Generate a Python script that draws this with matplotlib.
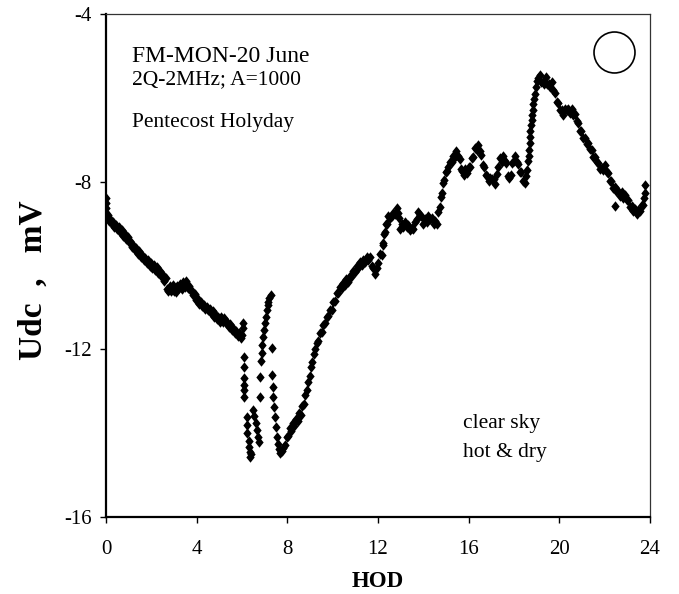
import matplotlib
matplotlib.use("Agg")
import matplotlib.pyplot as plt
import numpy as np

plt.rcParams['font.family'] = ['Liberation Serif', 'DejaVu Serif']
plt.rcParams['axes.unicode_minus'] = False

# ── data (hour of day, Udc in mV) ────────────────────────────────────────────
night_hod = [0.00, 0.00, 0.00, 0.02, 0.05, 0.09, 0.14, 0.19, 0.25, 0.31, 0.37, 0.43,
             0.50, 0.56, 0.62, 0.69, 0.75, 0.82, 0.88, 0.95, 1.01, 1.08, 1.14, 1.21,
             1.27, 1.34, 1.40, 1.47, 1.53, 1.60, 1.66, 1.73, 1.79, 1.86, 1.92, 1.99,
             2.05, 2.12, 2.18, 2.25, 2.31, 2.38, 2.44, 2.51, 2.57, 2.63, 2.69, 2.75,
             2.82, 2.88, 2.95, 3.01, 3.08, 3.14, 3.21, 3.27, 3.34, 3.40, 3.47, 3.53,
             3.60, 3.66, 3.73, 3.79, 3.86, 3.92, 3.99, 4.05, 4.12, 4.18, 4.25, 4.31,
             4.38, 4.44, 4.51, 4.57, 4.64, 4.70, 4.77, 4.83, 4.90, 4.96, 5.03, 5.09,
             5.16, 5.22, 5.29, 5.35, 5.42, 5.48, 5.55, 5.61, 5.68, 5.74, 5.81, 5.87,
             5.94, 6.00, 6.04, 6.05]
night_udc = [-8.39, -8.50, -8.62, -8.74, -8.84, -8.80, -8.93, -8.88, -9.01, -8.96, -9.08, -9.03,
             -9.14, -9.08, -9.20, -9.16, -9.30, -9.24, -9.37, -9.32, -9.45, -9.42, -9.56, -9.50,
             -9.63, -9.59, -9.72, -9.66, -9.79, -9.74, -9.88, -9.82, -9.94, -9.88, -10.00, -9.94,
             -10.05, -9.99, -10.10, -10.04, -10.17, -10.12, -10.26, -10.22, -10.37, -10.30, -10.55, -10.62,
             -10.48, -10.60, -10.46, -10.60, -10.64, -10.50, -10.54, -10.43, -10.56, -10.40, -10.52, -10.38,
             -10.54, -10.50, -10.62, -10.60, -10.71, -10.68, -10.82, -10.79, -10.92, -10.86, -10.97, -10.94,
             -11.04, -10.98, -11.06, -11.03, -11.14, -11.08, -11.22, -11.16, -11.28, -11.22, -11.34, -11.24,
             -11.34, -11.26, -11.37, -11.34, -11.46, -11.40, -11.54, -11.48, -11.61, -11.56, -11.67, -11.62,
             -11.74, -11.66, -11.38, -11.50]

dip_hod = [6.09, 6.09, 6.09, 6.09, 6.09, 6.09, 6.20, 6.21, 6.23, 6.30, 6.33, 6.35,
           6.35, 6.40, 6.50, 6.55, 6.62, 6.68, 6.71, 6.76, 6.79, 6.79, 6.82, 6.87,
           6.90, 6.94, 6.98, 7.01, 7.05, 7.09, 7.13, 7.16, 7.21, 7.26, 7.31, 7.31,
           7.35, 7.38, 7.41, 7.45, 7.50, 7.53, 7.58, 7.63, 7.68, 7.75, 7.82]
dip_udc = [-12.19, -12.41, -12.69, -12.85, -12.98, -13.13, -13.61, -13.80, -14.00, -14.18, -14.32, -14.44,
           -14.58, -14.50, -13.45, -13.60, -13.76, -13.92, -14.08, -14.22, -12.65, -13.13, -12.28, -12.09,
           -11.90, -11.70, -11.55, -11.38, -11.22, -11.06, -10.95, -10.86, -10.78, -10.70, -11.97, -12.61,
           -12.89, -13.13, -13.37, -13.61, -13.85, -14.08, -14.25, -14.38, -14.48, -14.42, -14.36]

rise_hod = [7.90, 7.97, 8.03, 8.10, 8.17, 8.24, 8.31, 8.38, 8.45, 8.52, 8.59, 8.66,
            8.72, 8.79, 8.85, 8.92, 8.98, 9.04, 9.10, 9.16, 9.22, 9.29, 9.36, 9.44,
            9.51, 9.59, 9.66, 9.73, 9.81, 9.88, 9.95, 10.03, 10.10, 10.17, 10.24, 10.32]
rise_udc = [-14.28, -14.10, -14.06, -13.88, -13.94, -13.76, -13.84, -13.66, -13.72, -13.52, -13.56, -13.36,
            -13.30, -13.10, -12.98, -12.78, -12.64, -12.43, -12.30, -12.10, -12.00, -11.86, -11.80, -11.62,
            -11.58, -11.42, -11.38, -11.22, -11.20, -11.06, -11.06, -10.88, -10.84, -10.66, -10.66, -10.52]

day_hod = [10.39, 10.46, 10.54, 10.61, 10.68, 10.76, 10.83, 10.91, 10.98, 11.06, 11.13, 11.20,
           11.28, 11.35, 11.42, 11.50, 11.57, 11.65, 11.72, 11.80, 11.87, 11.94, 12.01, 12.08,
           12.16, 12.20, 12.23, 12.27, 12.31, 12.35, 12.40, 12.46, 12.53, 12.60, 12.67, 12.74,
           12.82, 12.89, 12.93, 12.97, 13.04, 13.11, 13.19, 13.26, 13.33, 13.41, 13.48, 13.55,
           13.63, 13.70, 13.78, 13.85, 13.92, 14.00, 14.07, 14.15, 14.22, 14.30, 14.37, 14.45,
           14.52, 14.59, 14.66, 14.72, 14.78, 14.83, 14.88, 14.93, 14.98, 15.03]
day_udc = [-10.54, -10.42, -10.46, -10.32, -10.40, -10.26, -10.28, -10.12, -10.16, -10.02, -10.06, -9.92,
           -9.99, -9.86, -9.92, -9.80, -9.86, -9.80, -10.02, -10.06, -10.20, -10.06, -9.94, -9.72,
           -9.74, -9.52, -9.46, -9.24, -9.20, -9.00, -9.00, -8.82, -8.86, -8.82, -8.74, -8.76,
           -8.64, -8.74, -8.86, -9.14, -9.00, -9.08, -8.96, -9.08, -9.04, -9.16, -9.10, -9.12,
           -8.96, -8.90, -8.72, -8.80, -8.84, -9.02, -8.88, -8.96, -8.82, -8.90, -8.86, -9.02,
           -8.94, -9.00, -8.72, -8.60, -8.36, -8.26, -8.02, -7.96, -7.76, -7.74]

eve_hod = [15.10, 15.18, 15.25, 15.32, 15.39, 15.46, 15.54, 15.60, 15.66, 15.72, 15.79, 15.86,
           15.93, 16.00, 16.06, 16.13, 16.20, 16.28, 16.35, 16.42, 16.50, 16.56, 16.62, 16.68,
           16.75, 16.82, 16.89, 16.96, 17.03, 17.10, 17.17, 17.24, 17.31, 17.38, 17.46, 17.53,
           17.60, 17.66, 17.72, 17.79, 17.86, 17.93, 18.00, 18.06, 18.12, 18.19, 18.26, 18.33,
           18.40, 18.47, 18.52, 18.58, 18.62, 18.65, 18.67, 18.69, 18.70, 18.72, 18.75, 18.78,
           18.81, 18.83, 18.86, 18.90, 18.94, 18.98, 19.03, 19.08, 19.14, 19.20, 19.26, 19.33,
           19.40, 19.46, 19.53, 19.60, 19.66, 19.73, 19.80, 19.88, 19.95, 20.02, 20.10, 20.17,
           20.25, 20.32, 20.40, 20.47, 20.55, 20.62, 20.70, 20.77, 20.83, 20.90, 20.97, 21.05,
           21.12, 21.20, 21.27, 21.35, 21.42, 21.50, 21.57, 21.65, 21.72, 21.79, 21.87, 21.94,
           22.01, 22.09, 22.16, 22.23, 22.30, 22.38, 22.45, 22.45, 22.52, 22.60, 22.67, 22.75,
           22.82, 22.90, 22.97, 23.04, 23.11, 23.19, 23.26, 23.34, 23.41, 23.48, 23.56, 23.63,
           23.70, 23.75, 23.78, 23.78]
eve_udc = [-7.66, -7.52, -7.52, -7.38, -7.40, -7.28, -7.38, -7.46, -7.70, -7.74, -7.84, -7.70,
           -7.80, -7.66, -7.66, -7.44, -7.40, -7.20, -7.24, -7.12, -7.26, -7.36, -7.60, -7.66,
           -7.84, -7.86, -7.98, -7.92, -7.94, -7.94, -8.06, -7.82, -7.66, -7.44, -7.54, -7.38,
           -7.50, -7.56, -7.86, -7.92, -7.84, -7.56, -7.50, -7.38, -7.54, -7.58, -7.76, -7.78,
           -7.98, -8.04, -7.86, -7.72, -7.50, -7.38, -7.24, -7.08, -6.93, -6.78, -6.64, -6.53,
           -6.40, -6.28, -6.14, -6.02, -5.92, -5.74, -5.60, -5.52, -5.46, -5.62, -5.62, -5.66,
           -5.50, -5.68, -5.68, -5.74, -5.62, -5.82, -5.88, -6.10, -6.12, -6.30, -6.28, -6.40,
           -6.26, -6.30, -6.26, -6.36, -6.26, -6.42, -6.38, -6.56, -6.60, -6.80, -6.80, -6.96,
           -6.96, -7.10, -7.08, -7.22, -7.24, -7.42, -7.40, -7.54, -7.56, -7.70, -7.68, -7.72,
           -7.60, -7.76, -7.80, -7.98, -7.98, -8.14, -8.12, -8.58, -8.22, -8.22, -8.34, -8.24,
           -8.38, -8.32, -8.44, -8.44, -8.60, -8.58, -8.70, -8.66, -8.76, -8.68, -8.70, -8.56,
           -8.56, -8.40, -8.28, -8.08]

x_ticks = [0, 4, 8, 12, 16, 20, 24]
y_ticks = [-16, -12, -8, -4]

hod = np.array(night_hod + dip_hod + rise_hod + day_hod + eve_hod)
udc = np.array(night_udc + dip_udc + rise_udc + day_udc + eve_udc)

# ── plot ─────────────────────────────────────────────────────────────────────
fig = plt.figure(figsize=(6.79, 5.94), dpi=100)
ax = fig.add_axes([106/679, 1 - 517/594, 544/679, 503/594])

diamond = [(0, 1), (0.8, 0), (0, -1), (-0.8, 0), (0, 1)]
ax.plot(hod, udc, linestyle='none', marker=diamond, markersize=7.5,
        color='black', markeredgewidth=0)

ax.set_xlim(0, 24)
ax.set_ylim(-16, -4)
ax.set_xticks(x_ticks)
ax.set_yticks(y_ticks)
ax.tick_params(direction='out', length=4.5, width=1, labelsize=15)
ax.tick_params(axis='x', pad=12)
ax.tick_params(axis='y', pad=6)

for side in ['left', 'bottom']:
    ax.spines[side].set_linewidth(1.6)
for side in ['top', 'right']:
    ax.spines[side].set_linewidth(0.9)
    ax.spines[side].set_color('#333333')

ax.set_xlabel("HOD", fontsize=16.5, fontweight='bold', labelpad=9)
ax.set_ylabel("Udc  ,   mV", fontsize=24, fontweight='bold')
ax.yaxis.set_label_coords(-0.105, 0.47)

ax.text(0.048, 0.905, "FM-MON-20 June", transform=ax.transAxes, fontsize=17)
ax.text(0.048, 0.860, "2Q-2MHz; A=1000", transform=ax.transAxes, fontsize=15.5)
ax.text(0.048, 0.775, "Pentecost Holyday", transform=ax.transAxes, fontsize=15.5)
ax.text(0.656, 0.177, "clear sky", transform=ax.transAxes, fontsize=15.5)
ax.text(0.656, 0.119, "hot & dry", transform=ax.transAxes, fontsize=15.5)

# empty circle in the upper right corner
ax.plot([0.934], [0.925], transform=ax.transAxes, marker='o', markersize=29.5,
        markerfacecolor='none', markeredgecolor='black', markeredgewidth=1.2,
        clip_on=False)

fig.savefig("out.png", dpi=100)
